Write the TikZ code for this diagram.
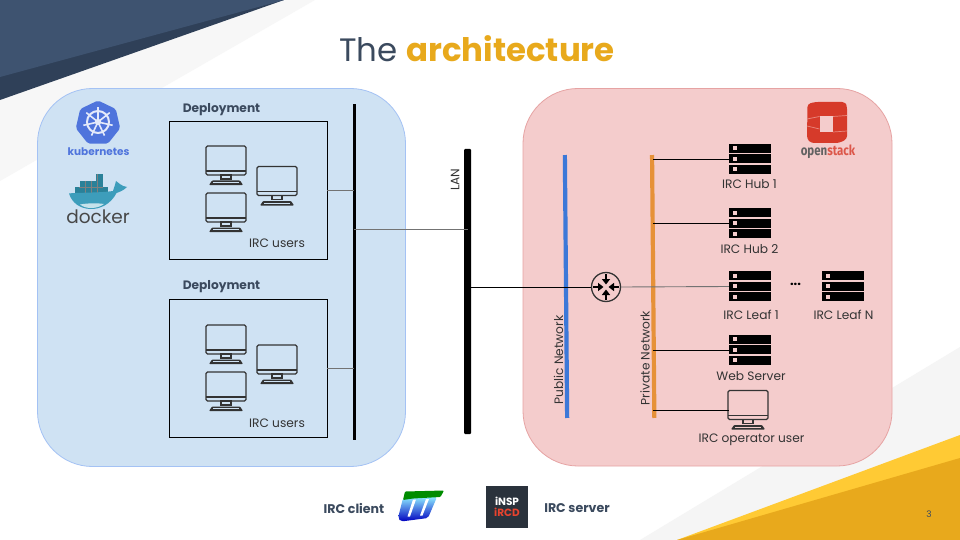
\documentclass[tikz,border=0pt]{standalone}
\usepackage{fontspec}
\setmainfont{Poppins}
\usetikzlibrary{arrows.meta}
\newfontfamily\condfont{Fira Sans}
\definecolor{slate}{HTML}{3B4A5E}
\definecolor{inkc}{HTML}{333333}
\definecolor{panelblue}{HTML}{CFE2F3}
\definecolor{panelblueb}{HTML}{A4C2F4}
\definecolor{panelred}{HTML}{F4CCCC}
\definecolor{panelredb}{HTML}{E6A3A3}
\definecolor{gold}{HTML}{E8A91C}
\definecolor{yellowb}{HTML}{FFCA34}
\definecolor{navya}{HTML}{3E5370}
\definecolor{navyb}{HTML}{2F4058}
\definecolor{k8s}{HTML}{4F74DC}
\definecolor{osred}{HTML}{D63A2A}
\definecolor{dockt}{HTML}{2A8199}
\definecolor{dockw}{HTML}{3D9DBB}
\definecolor{routerc}{HTML}{333333}
\definecolor{pubc}{HTML}{3C78D8}
\definecolor{privc}{HTML}{E69138}
\definecolor{inspbg}{HTML}{2A323C}
\definecolor{inspred}{HTML}{E8432E}
\tikzset{
  lbl/.style={font=\fontsize{12.2}{14}\selectfont,text=inkc,inner sep=0pt},
  deptitle/.style={font=\fontsize{12.2}{14}\selectfont\bfseries,text=slate,inner sep=0pt},
  legend/.style={font=\fontsize{12.6}{14}\selectfont\bfseries,text=slate,inner sep=0pt},
  depbox/.style={draw=black,line width=0.9pt,minimum width=158pt,minimum height=137.5pt,inner sep=0pt},
  busbar/.style={fill=black,inner sep=0pt,minimum width=#1},
  anchorbox/.style={inner sep=0pt,minimum width=42pt,minimum height=31pt},
  netbar/.style={fill=#1,inner sep=0pt,minimum width=4.2pt,minimum height=263pt,rotate=0.5},
  link/.style={line width=0.9pt,draw=black},
  softlink/.style={line width=0.9pt,draw=black!55},
  monitor/.pic={
    \draw[inkc,line width=1.3pt,rounded corners=1.5pt] (-20,-20) rectangle (20,9);
    \draw[inkc,line width=1.3pt] (-20,5) -- (20,5);
    \draw[inkc,line width=1.3pt] (-5,9) rectangle (5,13);
    \fill[inkc,rounded corners=0.8pt] (-17,19) -- (-14,14.5) -- (14,14.5) -- (17,19) -- cycle;
    \fill[panelcolor] (-13,16) rectangle (13,17.2);
  },
  serverpic/.pic={
    \foreach \yy in {-15.5,-5,5.5}{
      \fill[black] (-21,\yy) rectangle (21,\yy+9);
      \fill[panelred] (-17,\yy+2.5) rectangle (-13,\yy+6.5);
    }
  }
}
\colorlet{panelcolor}{panelblue}
\begin{document}
\begin{tikzpicture}[x=1pt,y=-1pt]
\useasboundingbox (0,0) rectangle (960,540);
\fill[white] (0,0) rectangle (960,540);
% slide decoration
\fill[black!3] (0,0) -- (315,0) -- (0,181) -- cycle;
\fill[navyb] (0,0) -- (284,0) -- (0,100) -- cycle;
\fill[navya] (0,0) -- (284,0) -- (0,77) -- cycle;
\fill[black!4] (960,347) -- (960,540) -- (640,540) -- cycle;
\fill[yellowb] (960,435) -- (960,540) -- (677,540) -- cycle;
\fill[gold] (960,458) -- (960,540) -- (677,540) -- cycle;
\node[inner sep=0pt,font=\fontsize{9}{11}\selectfont,text=slate] (pagenum) at (929,514) {3};
% title
\node[inner sep=0pt,anchor=base,font=\fontsize{32.4}{38}\selectfont] (title) at (477,61.5) {\textcolor{slate}{The} \textcolor{gold}{\bfseries architecture}};
% panels
\draw[fill=panelblue,draw=panelblueb,line width=0.8pt,rounded corners=55pt] (37.5,88.5) rectangle (405.5,466.5);
\draw[fill=panelred,draw=panelredb,line width=0.8pt,rounded corners=55pt] (523,88.5) rectangle (892,466);
% kubernetes logo
\fill[k8s,rounded corners=2pt] (98,100.5) -- (115.8,109) -- (120.2,128.3) -- (107.9,143.7) -- (88.1,143.7) -- (75.8,128.3) -- (80.2,109) -- cycle;
\draw[white!85!k8s,line width=2pt] (98,122) circle (11);
\foreach \a in {-90,-38.6,12.8,64.3,115.7,167.1,218.6}{
  \draw[white!85!k8s,line width=1.6pt] (98,122) -- ++(\a:15);
}
\fill[white!85!k8s] (98,122) circle (3.2);
\node[inner sep=0pt,font=\fontsize{10.5}{12}\selectfont\bfseries,text=k8s] (k8stext) at (98.5,151.5) {kubernetes};
% docker logo
\fill[dockt] (75,187) rectangle (108,193);
\fill[dockt] (79.5,181) rectangle (102.5,187);
\fill[dockt] (95.5,174) rectangle (102.5,181);
\draw[black!50,line width=0.4pt] (85,181) -- (85,193) (91,181) -- (91,193) (97,174) -- (97,193) (79,187) -- (103,187);
\fill[dockw] (69,193.5) .. controls (75,192.5) and (100,193) .. (113,191)
  .. controls (114,188) and (115,185) .. (116,181)
  .. controls (119,183) and (121,186) .. (127,187)
  .. controls (123,191) and (119,192) .. (116.5,193)
  .. controls (111,204) and (100,209.5) .. (90,209)
  .. controls (80,208.5) and (72,203) .. (69,193.5) -- cycle;
\fill[white!70!dockw] (80,204.5) .. controls (88,203) and (98,203) .. (104,204) .. controls (98,208.5) and (87,210) .. (80,204.5) -- cycle;
\node[inner sep=0pt,font=\fontsize{18.5}{20}\selectfont,text=black!72] (docktext) at (98,217) {docker};
% openstack logo
\fill[osred,rounded corners=3pt] (807.5,104) -- (815,102) -- (845,102) -- (847,106) -- (847,139) -- (839,143) -- (811,143) -- (807,139) -- cycle;
\fill[panelred] (819.5,116.5) rectangle (833,132);
\draw[white!40!osred,line width=0.7pt] (807,119) -- (819.5,116.5) (833,116.5) -- (847,115.5) (807,126) -- (819.5,129) (833,132) -- (847,131);
\node[inner sep=0pt,xscale=0.82,font=\fontsize{14}{16}\selectfont\bfseries] (ostext) at (828,152) {\condfont\textcolor{black!62}{open}\textcolor{osred!85}{stack}};
% deployments
\node[deptitle] (dep1t) at (221.5,109.5) {Deployment};
\node[deptitle] (dep2t) at (221.5,287) {Deployment};
\node[depbox] (box1) at (248,190.25) {};
\node[depbox] (box2) at (248,368.25) {};
\pic at (226,166) {monitor};
\pic at (277,186.5) {monitor};
\pic at (226,213) {monitor};
\pic at (226,345) {monitor};
\pic at (277,365) {monitor};
\pic at (226,392) {monitor};
\node[lbl] (users1) at (277,243) {IRC users};
\node[lbl] (users2) at (277,423) {IRC users};
% buses
\node[busbar=3.6pt,minimum height=336pt] (bus) at (354.3,272) {};
\node[busbar=7pt,minimum height=285pt,rounded corners=1pt] (lan) at (467.5,291.5) {};
\node[lbl,rotate=90] (lant) at (455,179.5) {LAN};
\node[netbar=pubc] (pubnet) at (566,286.5) {};
\node[netbar=privc] (privnet) at (653.2,286.5) {};
\node[lbl,rotate=90] (pubt) at (558.5,360) {Public Network};
\node[lbl,rotate=90] (privt) at (645,358) {Private Network};
% servers
\node[anchorbox] (hub1) at (750,159.5) {}; \pic at (hub1) {serverpic};
\node[anchorbox] (hub2) at (750,223.5) {}; \pic at (hub2) {serverpic};
\node[anchorbox] (leaf1) at (750,286.5) {}; \pic at (leaf1) {serverpic};
\node[anchorbox] (leafn) at (843,286.5) {}; \pic at (leafn) {serverpic};
\node[anchorbox] (web) at (750,350) {}; \pic at (web) {serverpic};
\colorlet{panelcolor}{panelred}
\node[inner sep=0pt,minimum width=38pt,minimum height=37pt] (oper) at (748,410.5) {};
\begin{scope}[shift={(748,410.5)},xscale=0.93,yscale=0.93]
\pic at (0,0) {monitor};
\end{scope}
\node[lbl] (hub1t) at (749.5,184.5) {IRC Hub 1};
\node[lbl] (hub2t) at (749.5,249.5) {IRC Hub 2};
\node[lbl] (leaf1t) at (751,314.5) {IRC Leaf 1};
\node[lbl] (leafnt) at (843.5,314.5) {IRC Leaf N};
\node[lbl] (webt) at (751,376) {Web Server};
\node[lbl] (opert) at (751.5,439.5) {IRC operator user};
\node[inner sep=0pt,font=\fontsize{13}{14}\selectfont\bfseries,text=black] (dots) at (795.5,284) {...};
% router
\node[circle,draw=routerc,line width=1.3pt,minimum size=29pt,inner sep=0pt,fill=panelred] (router) at (606,287) {};
\foreach \a in {0,90,180,270}{
  \draw[black,line width=2pt,-{Triangle[length=5.5pt,width=8pt]}] (router.center) ++(\a:13) -- ++(\a+180:10.5);
}
% connectors
\coordinate (busj) at (354.3,229);
\draw[softlink] (box1.east) -- (box1.east -| bus.center);
\draw[softlink] (box2.east) -- (box2.east -| bus.center);
\draw[softlink] (busj) -- (busj -| lan.center);
\draw[link] (router.west -| lan.center) -- (router.west);
\draw[softlink] (router.east) -- (leaf1.west);
\draw[link] (hub1.west -| privnet.center) -- (hub1.west);
\draw[link] (hub2.west -| privnet.center) -- (hub2.west);
\draw[link] (web.west -| privnet.center) -- (web.west);
\draw[link] (oper.west -| privnet.center) -- (oper.west);
% legend
\node[legend] (clientt) at (354,508) {IRC client};
\node[legend] (servert) at (577,508) {IRC server};
\shade[top color=blue!20!cyan!45!white,bottom color=blue!75!black,rounded corners=2pt] (403,498) -- (437,497) -- (428,518) -- (401,521.5) -- (398,518) -- cycle;
\fill[white] (413,499.5) -- (416,499.5) -- (410,516.5) -- (407.5,516.5) -- cycle;
\fill[white] (426,499) -- (429,499) -- (422.5,515.5) -- (420,515.5) -- cycle;
\fill[green!55!black,rounded corners=1pt] (405,491.5) -- (444,490.5) -- (440.5,497) -- (413,498.5) -- (403,500) -- cycle;
\node[fill=inspbg,inner sep=0pt,minimum size=42pt,text=white,align=center,font=\fontsize{10.5}{11.5}\selectfont\bfseries] (inspd) at (507,507) {iNSP\\\textcolor{inspred}{iRCD}};
\end{tikzpicture}
\end{document}
